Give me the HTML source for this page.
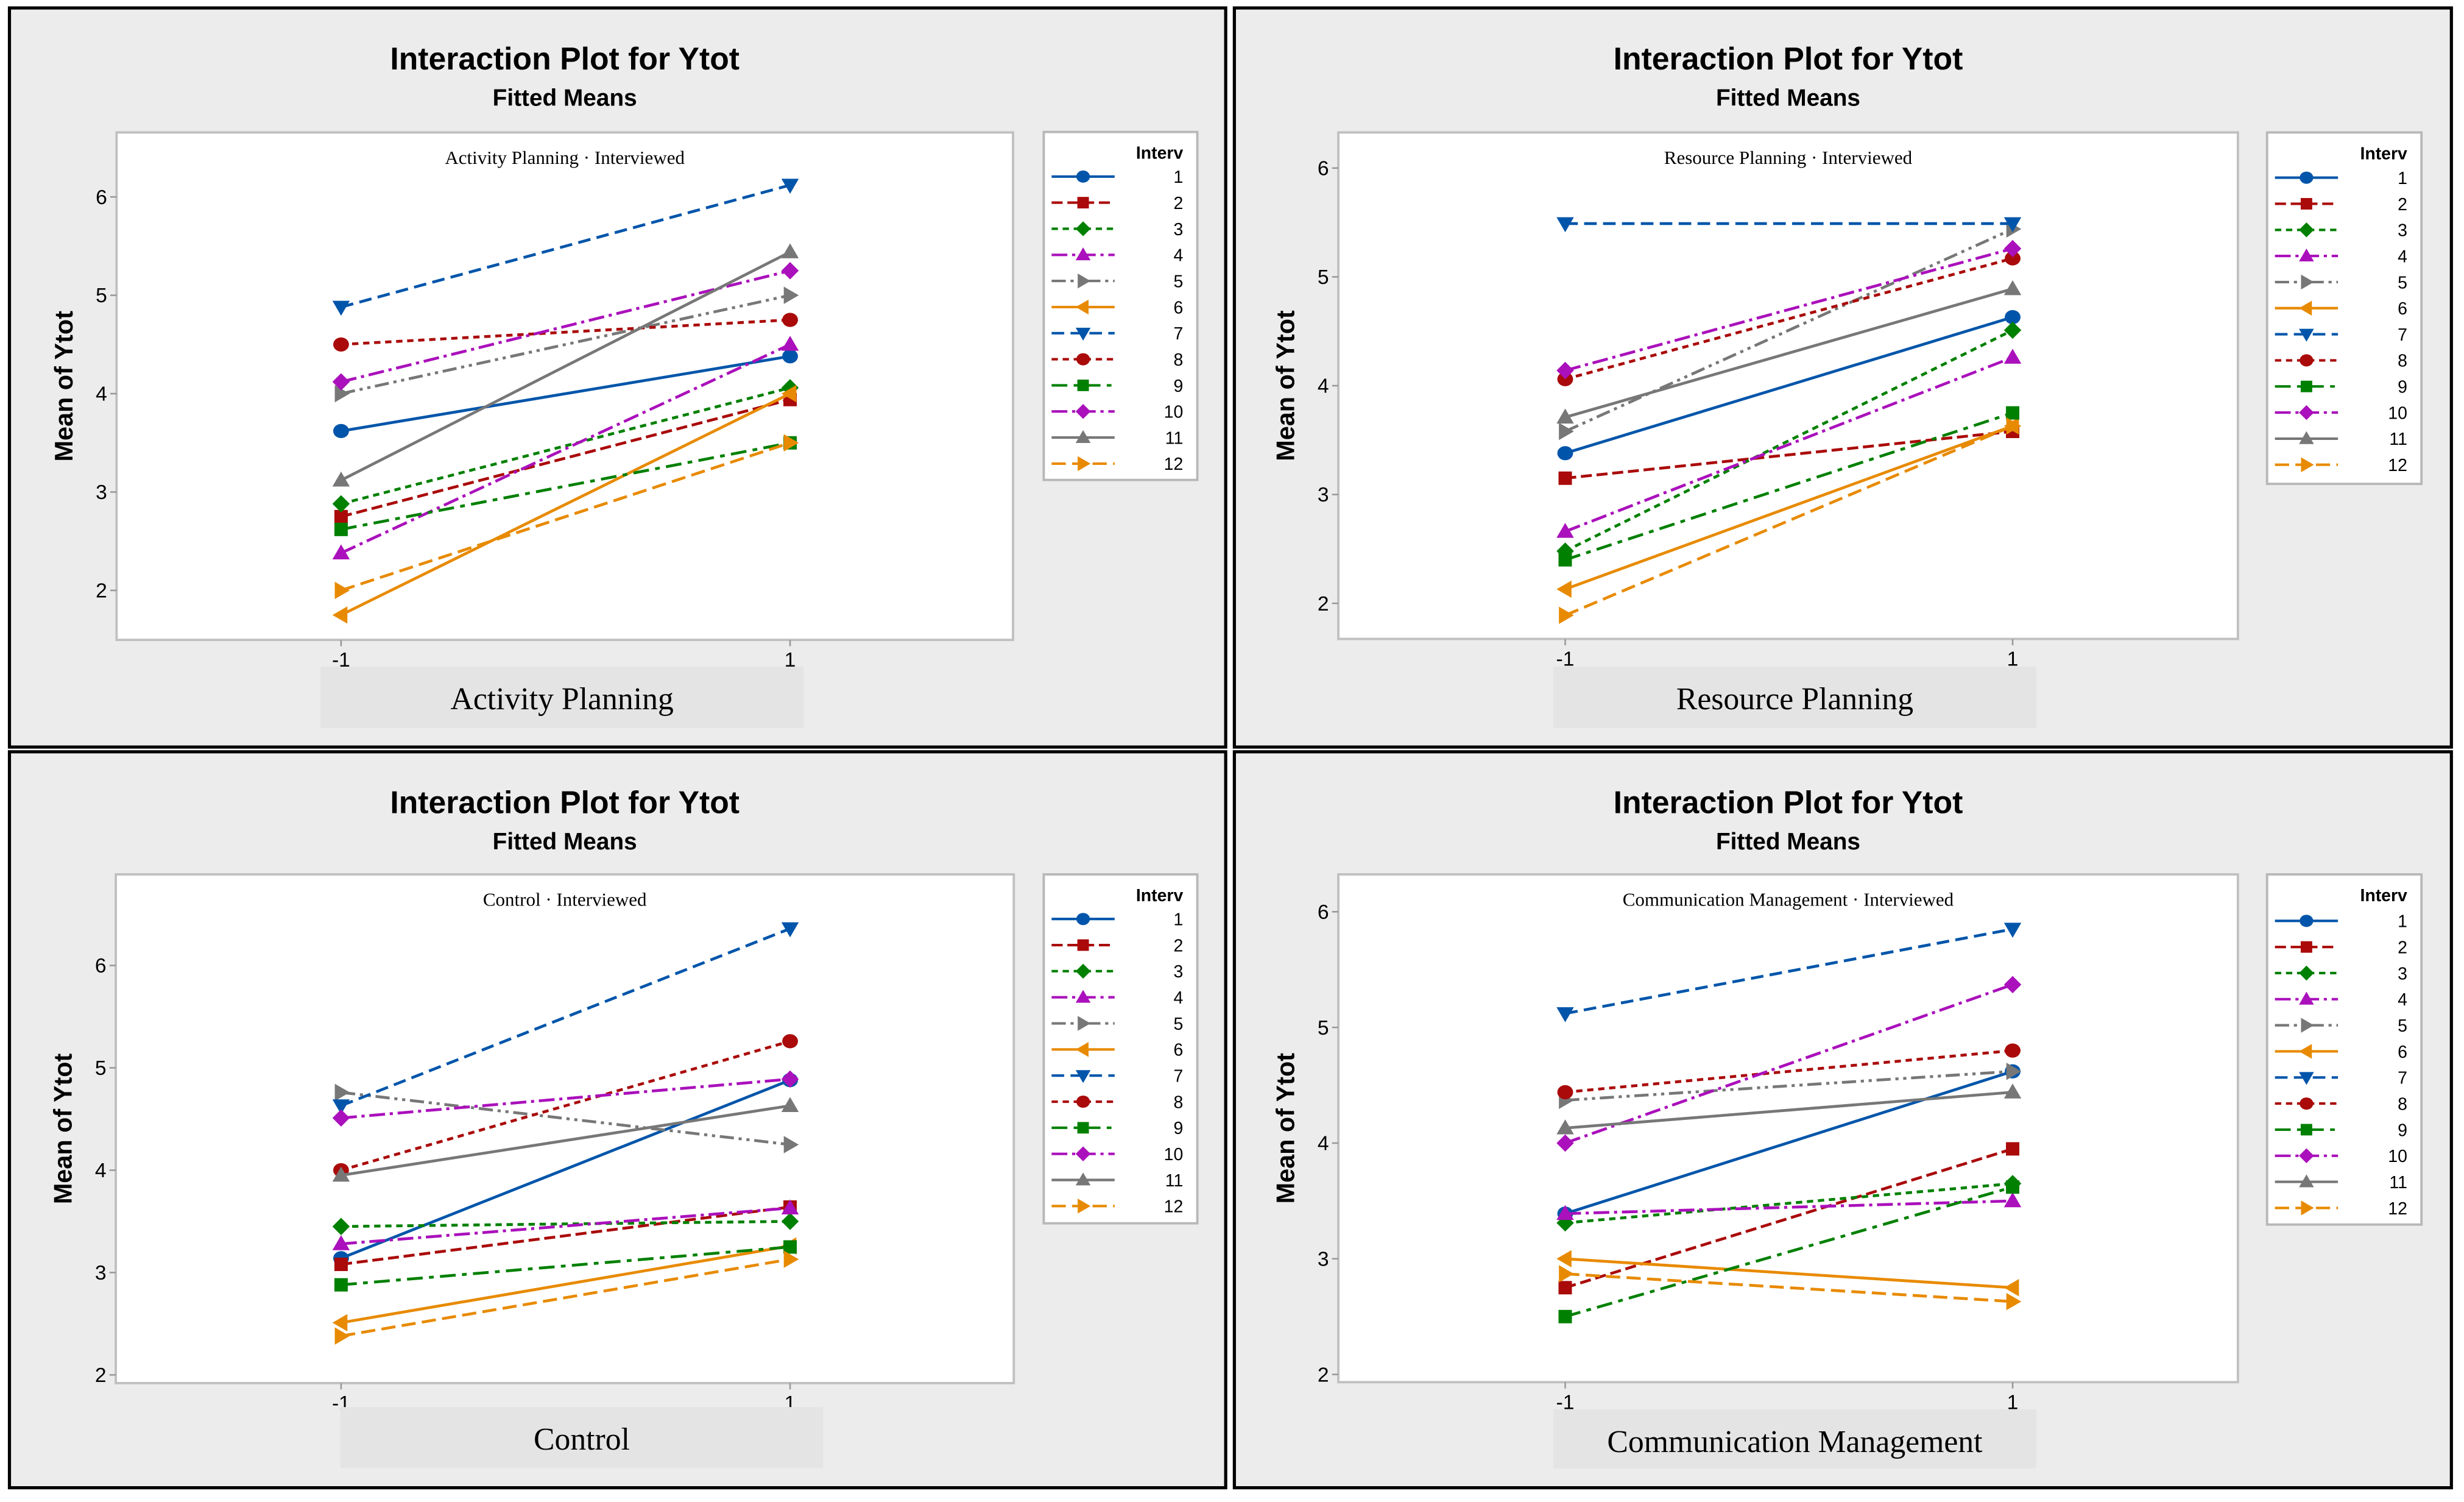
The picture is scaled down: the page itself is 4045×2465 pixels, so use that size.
<!DOCTYPE html>
<html><head><meta charset="utf-8"><style>
html,body{margin:0;padding:0;background:#fff;}
svg{display:block;}
</style></head><body>
<svg id="root" width="4045" height="2465" viewBox="0 0 1564 953" xmlns="http://www.w3.org/2000/svg"></svg>
<script>
// ---- data: fitted means at level -1 and level +1 for Interviewed 1..12 ----
const levels = ["-1", "1"];
const interviewees = ["1","2","3","4","5","6","7","8","9","10","11","12"];
const yTicks = [2, 3, 4, 5, 6];
const activityLow  = [3.62, 2.75, 2.88, 2.38, 4.00, 1.75, 4.88, 4.50, 2.62, 4.12, 3.12, 2.00];
const activityHigh = [4.38, 3.94, 4.06, 4.50, 5.00, 4.00, 6.12, 4.75, 3.50, 5.25, 5.44, 3.50];
const resourceLow  = [3.38, 3.15, 2.48, 2.66, 3.58, 2.13, 5.49, 4.06, 2.40, 4.14, 3.71, 1.89];
const resourceHigh = [4.63, 3.58, 4.51, 4.26, 5.44, 3.63, 5.49, 5.17, 3.75, 5.26, 4.89, 3.63];
const controlLow   = [3.14, 3.08, 3.45, 3.28, 4.76, 2.51, 4.63, 4.00, 2.88, 4.51, 3.95, 2.38];
const controlHigh  = [4.88, 3.64, 3.50, 3.63, 4.25, 3.26, 6.36, 5.26, 3.25, 4.89, 4.63, 3.13];
const commLow      = [3.39, 2.75, 3.31, 3.39, 4.37, 3.00, 5.12, 4.44, 2.50, 4.00, 4.13, 2.87];
const commHigh     = [4.62, 3.95, 3.65, 3.50, 4.62, 2.75, 5.85, 4.80, 3.62, 5.37, 4.44, 2.63];

// ---- styles ----
const colors = ["#0055aa","#aa0a0a","#008000","#aa10bb","#777777","#e88a00","#0055aa","#aa0a0a","#008000","#aa10bb","#777777","#e88a00"];
const dashes = ["", "7 3", "4 3", "10 3 2 3", "9 3 2 3 2 3", "", "8 4", "4 3", "10 4 3 4", "10 3 2 3", "", "9 4"];
const markers = ["circle","square","diamond","up","right","left","down","circle","square","diamond","up","right"];

const NS = "http://www.w3.org/2000/svg";
const root = document.getElementById("root");
function mk(tag, attrs, parent){
  const e = document.createElementNS(NS, tag);
  for (const k in attrs) e.setAttribute(k, attrs[k]);
  (parent||root).appendChild(e);
  return e;
}
function marker(type, cx, cy, r, color, parent){
  let e;
  if (type === "circle") e = mk("ellipse", {cx:cx, cy:cy, rx:r, ry:r*0.9, fill:color}, parent);
  else if (type === "square") e = mk("rect", {x:cx-r*0.85, y:cy-r*0.85, width:r*1.7, height:r*1.7, fill:color}, parent);
  else {
    let p;
    if (type === "diamond") p = [[cx,cy-r*1.1],[cx+r*1.1,cy],[cx,cy+r*1.1],[cx-r*1.1,cy]];
    else if (type === "up") p = [[cx,cy-r*1.1],[cx+r*1.1,cy+r*0.8],[cx-r*1.1,cy+r*0.8]];
    else if (type === "down") p = [[cx,cy+r*1.1],[cx+r*1.1,cy-r*0.8],[cx-r*1.1,cy-r*0.8]];
    else if (type === "right") p = [[cx+r*1.1,cy],[cx-r*0.8,cy-r*1.1],[cx-r*0.8,cy+r*1.1]];
    else p = [[cx-r*1.1,cy],[cx+r*0.8,cy-r*1.1],[cx+r*0.8,cy+r*1.1]];
    e = mk("polygon", {points:p.map(q=>q.join(",")).join(" "), fill:color}, parent);
  }
  return e;
}

const panels = [
  {name:"activity-planning", label:"Activity Planning", low:activityLow, high:activityHigh,
   frame:[6,5,778,474], plot:[74,84,643,406], y6:124.9, y2:374.6, x0:216.5, x1:501.5,
   legend:[662.5,83.7,760,304.5], leg0:112, xbox:[203.5,423,510,462]},
  {name:"resource-planning", label:"Resource Planning", low:resourceLow, high:resourceHigh,
   frame:[783.5,5,1556,474], plot:[849.5,84,1420.5,405.4], y6:106.6, y2:382.8, x0:993.5, x1:1277.5,
   legend:[1439,84,1537,307], leg0:112.7, xbox:[986,423,1292.5,462]},
  {name:"control", label:"Control", low:controlLow, high:controlHigh,
   frame:[6,477,778,944], plot:[73.5,554.8,643.5,877.6], y6:612.6, y2:872.4, x0:216.5, x1:501.5,
   legend:[662.5,554.8,760,776.2], leg0:583.1, xbox:[216,892.8,522.5,931.5]},
  {name:"communication-management", label:"Communication Management", low:commLow, high:commHigh,
   frame:[783.5,477,1556,944], plot:[849.5,554.8,1420.5,877], y6:578.5, y2:872.1, x0:993.5, x1:1277.5,
   legend:[1439,554.8,1537,777], leg0:584.3, xbox:[986,894.3,1292.5,931.8]}
];

panels.forEach(P => {
  const g = mk("g", {});
  
  
  const [fx0,fy0,fx1,fy1] = P.frame;
  const bg = mk("rect", {x:fx0, y:fy0, width:fx1-fx0, height:fy1-fy0, fill:"#ececec", stroke:"#000", "stroke-width":2}, g);
  
  
  const xs = v => v < 0 ? P.x0 : P.x1;
  const ys = v => P.y6 + (6 - v) * (P.y2 - P.y6) / 4;
  const xmid = (P.plot[0] + P.plot[2]) / 2;
  const t1 = mk("text", {x:xmid, y:fy0+39, "text-anchor":"middle", "font-family":"Liberation Sans, sans-serif", "font-size":20, "font-weight":"bold", fill:"#000"}, g);
  t1.textContent = "Interaction Plot for Ytot";
  
  
  const t2 = mk("text", {x:xmid, y:fy0+62, "text-anchor":"middle", "font-family":"Liberation Sans, sans-serif", "font-size":15, "font-weight":"bold", fill:"#000"}, g);
  t2.textContent = "Fitted Means";
  
  
  const [px0,py0,px1,py1] = P.plot;
  const pa = mk("rect", {x:px0, y:py0, width:px1-px0, height:py1-py0, fill:"#fff", stroke:"#c0c0c0", "stroke-width":1.5}, g);
  
  
  const st = mk("text", {x:xmid, y:py0+20, "text-anchor":"middle", "font-family":"Liberation Serif, serif", "font-size":12, fill:"#000"}, g);
  st.textContent = P.label + "  \u00B7 Interviewed";
  
  
  yTicks.forEach(t => {
    const y = ys(t);
    const tk = mk("line", {x1:px0-4, x2:px0, y1:y, y2:y, stroke:"#999", "stroke-width":1}, g);
    
    
    const tl = mk("text", {x:px0-6, y:y+4.5, "text-anchor":"end", "font-family":"Liberation Sans, sans-serif", "font-size":13, fill:"#000"}, g);
    tl.textContent = t;
    
    
  });
  levels.forEach((l, i) => {
    const x = i === 0 ? P.x0 : P.x1;
    const tk = mk("line", {x1:x, x2:x, y1:py1, y2:py1+4, stroke:"#999", "stroke-width":1}, g);
    
    
    const tl = mk("text", {x:x, y:py1+17, "text-anchor":"middle", "font-family":"Liberation Sans, sans-serif", "font-size":13, fill:"#000"}, g);
    tl.textContent = l;
    
    
  });
  const ymid = (py0 + py1) / 2;
  const yl = mk("text", {x:0, y:0, transform:`translate(${px0-28},${ymid}) rotate(-90)`, "text-anchor":"middle", "font-family":"Liberation Sans, sans-serif", "font-size":16, "font-weight":"bold", fill:"#000"}, g);
  yl.textContent = "Mean of Ytot";
  
  
  const [bx0,by0,bx1,by1] = P.xbox;
  const xb = mk("rect", {x:bx0, y:by0, width:bx1-bx0, height:by1-by0, fill:"#e4e4e4"}, g);
  
  
  const xl = mk("text", {x:(bx0+bx1)/2, y:by0+27, "text-anchor":"middle", "font-family":"Liberation Serif, serif", "font-size":20, fill:"#000"}, g);
  xl.textContent = P.label;
  
  
  // series
  interviewees.forEach((id, k) => {
    const sg = mk("g", {}, g);
    
    
    const ln = mk("line", {x1:xs(-1), y1:ys(P.low[k]), x2:xs(1), y2:ys(P.high[k]), stroke:colors[k], "stroke-width":1.8, "stroke-dasharray":dashes[k]}, sg);
    
    
    const m1 = marker(markers[k], xs(-1), ys(P.low[k]), 5, colors[k], sg);
    
    
    const m2 = marker(markers[k], xs(1), ys(P.high[k]), 5, colors[k], sg);
    
    
  });
  // legend
  const [lx0,ly0,lx1,ly1] = P.legend;
  const lg = mk("g", {}, g);
  
  
  mk("rect", {x:lx0, y:ly0, width:lx1-lx0, height:ly1-ly0, fill:"#fff", stroke:"#b8b8b8", "stroke-width":1.5}, lg);
  const lt = mk("text", {x:lx1-9, y:ly0+17, "text-anchor":"end", "font-family":"Liberation Sans, sans-serif", "font-size":11, "font-weight":"bold", fill:"#000"}, lg);
  lt.textContent = "Interv";
  
  
  interviewees.forEach((id, k) => {
    const y = P.leg0 + k * 16.56;
    const eg = mk("g", {}, lg);
    
    
    mk("line", {x1:lx0+5, x2:lx0+45, y1:y, y2:y, stroke:colors[k], "stroke-width":1.6, "stroke-dasharray":dashes[k]}, eg);
    marker(markers[k], lx0+25, y, 4.3, colors[k], eg);
    const tx = mk("text", {x:lx1-9, y:y+4, "text-anchor":"end", "font-family":"Liberation Sans, sans-serif", "font-size":11, fill:"#000"}, eg);
    tx.textContent = id;
  });
});
</script>
</body></html>
